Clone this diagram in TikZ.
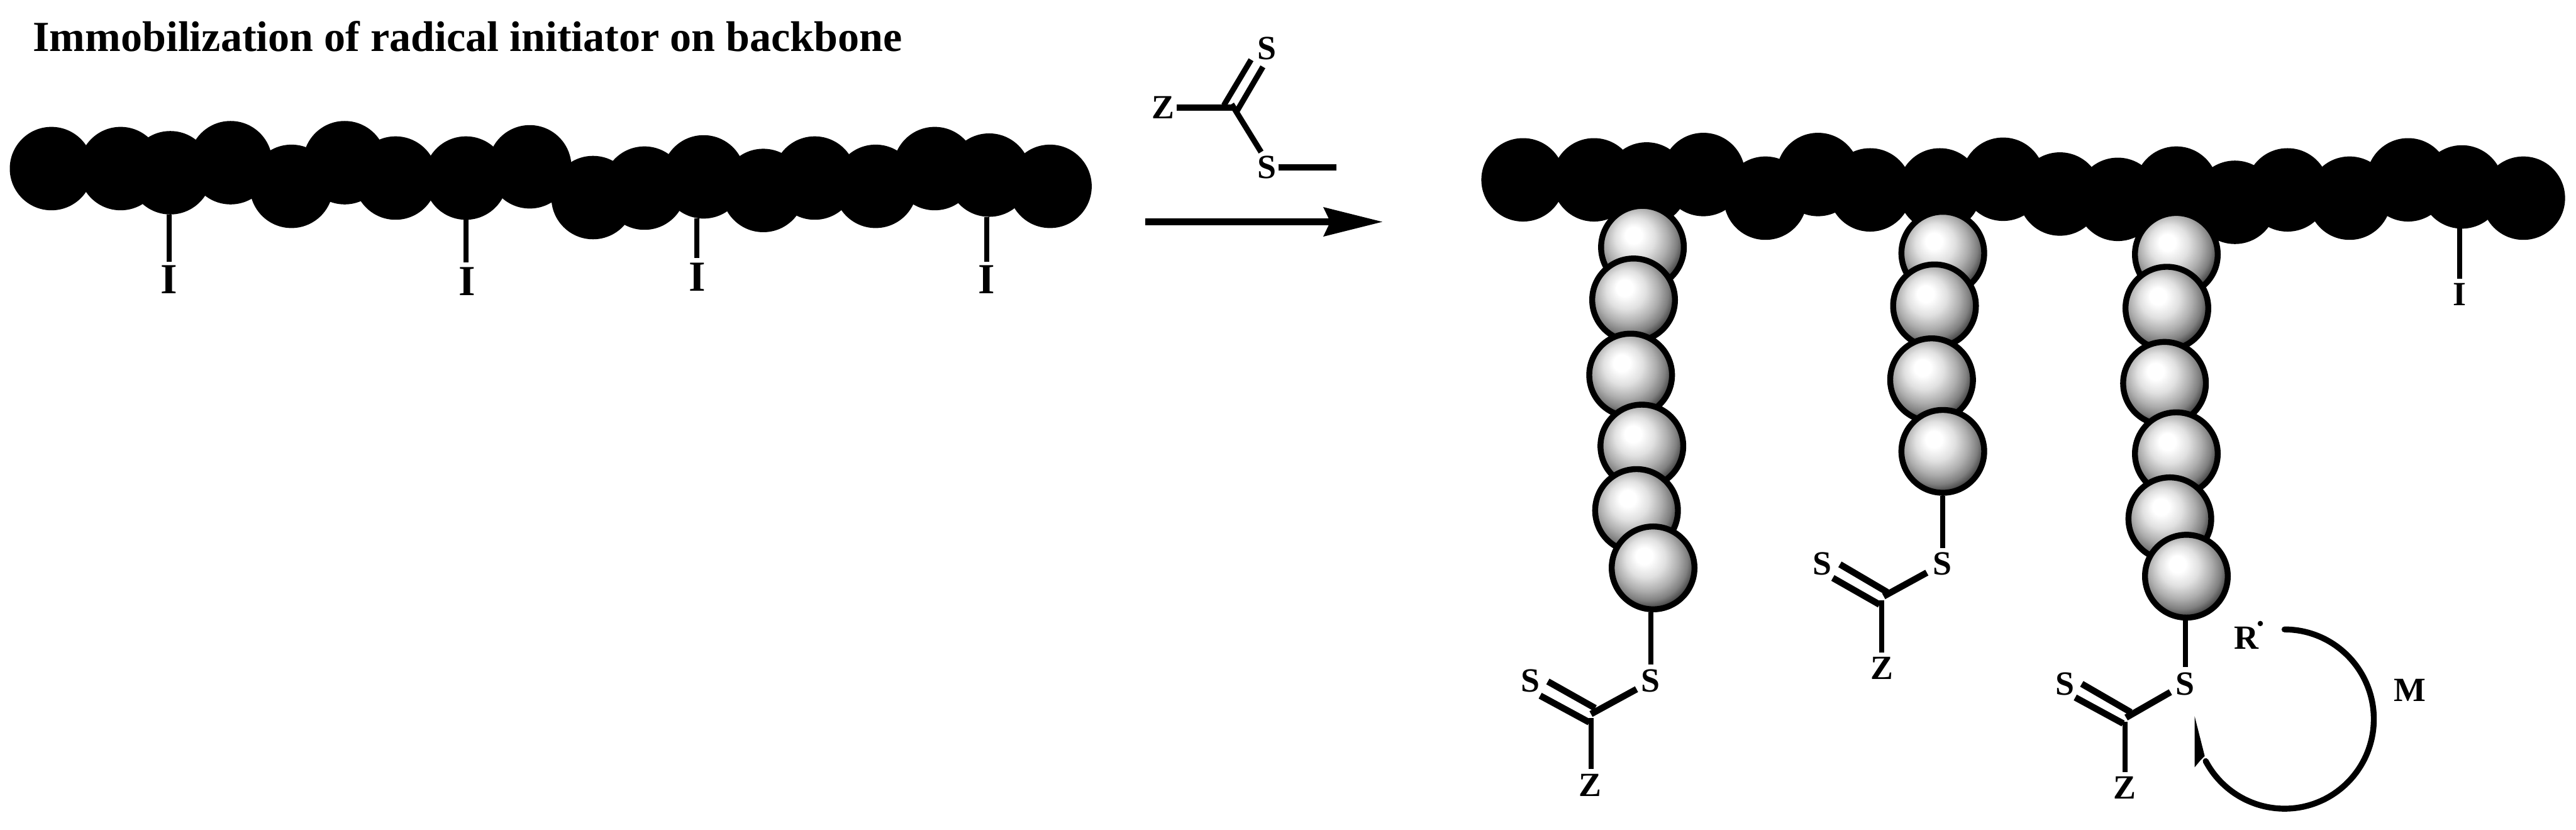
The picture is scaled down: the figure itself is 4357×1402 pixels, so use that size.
\documentclass[tikz,border=0pt]{standalone}
\usepackage{fontspec}
\setmainfont{Liberation Serif}
\pgfdeclareradialshading{beadshade}{\pgfpoint{-6bp}{8bp}}{%
  color(0bp)=(white); color(5bp)=(white); color(12bp)=(black!12); color(19bp)=(black!32);
  color(24bp)=(black!50); color(29bp)=(black!80); color(34bp)=(black!90); color(50bp)=(black)}
\tikzset{
  px/.style={x=0.1mm,y=-0.1mm},
  backbead/.style={circle,fill=black,inner sep=0pt,outer sep=0pt,minimum size=14.1mm},
  greybead/.style={circle,draw=black,line width=1mm,inner sep=0pt,minimum size=14mm,shading=beadshade},
  biglab/.style={inner sep=0pt,font=\fontsize{20.6}{22}\selectfont\bfseries},
  lab/.style={inner sep=0pt,font=\fontsize{16.3}{18}\selectfont\bfseries},
  titlelab/.style={inner sep=0pt,anchor=west,font=\fontsize{20.6}{22}\selectfont\bfseries},
  stalk/.style={line width=0.85mm,line cap=butt},
  bond/.style={line width=0.95mm,line cap=butt},
  thickbond/.style={line width=1.1mm,line cap=butt},
  headfill/.style={fill=black,draw=none},
}
\begin{document}
\begin{tikzpicture}[px]
\useasboundingbox[fill=white] (0,0) rectangle (4357,1402);
% title
\node[titlelab] (title) at (55,62) {Immobilization of radical initiator on backbone};
% left backbone
\foreach \n/\x/\y in {1/87/285,2/204/285,3/288/292,4/390/275,5/493/315,6/583/275,7/669/301,8/788/301,9/896/282,10/1003/334,11/1090/318,12/1190/299,13/1291/322,14/1378/301,15/1481/315,16/1581/285,17/1673/296,18/1776/315}
  \node[backbead] (L\n) at (\x,\y) {};
% left initiators
\node[biglab] (I1) at (286,473) {I};
\node[biglab] (I2) at (790,476) {I};
\node[biglab] (I3) at (1179,468) {I};
\node[biglab] (I4) at (1669,473) {I};
\coordinate (i1e) at (286,443);
\coordinate (i2e) at (788,444);
\coordinate (i3e) at (1179,436);
\coordinate (i4e) at (1669,442);
\draw[stalk] (L3.south -| i1e) -- (i1e);
\draw[stalk] (L8.south -| i2e) -- (i2e);
\draw[stalk] (L12.south -| i3e) -- (i3e);
\draw[stalk] (L17.south -| i4e) -- (i4e);
% reagent
\node[lab] (rS1) at (2143,82) {S};
\node[lab] (rZ) at (1967,182) {Z};
\node[lab] (rS2) at (2143,283) {S};
\coordinate (rC) at (2085,182);
\coordinate (rZe) at (1990,182);
\coordinate (rSe) at (2133,257);
\coordinate (rCb) at (2083,176);
\coordinate (rMs) at (2162,283);
\coordinate (rMe) at (2260,283);
\coordinate (rD1a) at (2070,178);
\coordinate (rD1b) at (2116,101);
\coordinate (rD2a) at (2092,188);
\coordinate (rD2b) at (2136,113);
\draw[thickbond] (rZe) -- (rC);
\draw[bond] (rCb) -- (rSe);
\draw[bond] (rD1a) -- (rD1b);
\draw[bond] (rD2a) -- (rD2b);
\draw[thickbond] (rMs) -- (rMe);
% reaction arrow
\coordinate (arS) at (1937,375);
\coordinate (arN) at (2250,375);
\coordinate (arT) at (2338,375);
\draw[thickbond] (arS) -- (arN);
\fill[headfill] (arT) -- (2238,350) -- (arN) -- (2238,400) -- cycle;
% right backbone
\foreach \n/\x/\y in {1/2576/304,2/2696/304,3/2785/311,4/2881/295,5/2986/335,6/3075/295,7/3163/321,8/3281/321,9/3388/303,10/3484/328,11/3582/337,12/3681/318,13/3780/342,14/3869/321,15/3974/335,16/4073/304,17/4164/316,18/4268/335}
  \node[backbead] (R\n) at (\x,\y) {};
\node[lab] (I5) at (4160,498) {I};
\coordinate (i5e) at (4160,471);
\draw[stalk] (R17.south -| i5e) -- (i5e);
% grey chains
\foreach \n/\x/\y in {1/2778/418,2/2763/507,3/2758/634,4/2777/754,5/2768/863,6/2796/960}
  \node[greybead] (A\n) at (\x,\y) {};
\foreach \n/\x/\y in {1/3286/428,2/3272/517,3/3267/642,4/3286/763}
  \node[greybead] (B\n) at (\x,\y) {};
\foreach \n/\x/\y in {1/3681/430,2/3665/521,3/3661/648,4/3681/767,5/3670/877,6/3698/974}
  \node[greybead] (C\n) at (\x,\y) {};
% chain A end group
\node[lab] (aS) at (2792,1151) {S};
\node[lab] (aSd) at (2589,1151) {S};
\node[lab] (aZ) at (2690,1327) {Z};
\coordinate (aT) at (2792,1123);
\coordinate (aC) at (2691,1214);
\coordinate (aCb) at (2691,1207);
\coordinate (aSb) at (2768,1165);
\coordinate (aZe) at (2691,1300);
\coordinate (aD1a) at (2618,1152);
\coordinate (aD1b) at (2698,1197);
\coordinate (aD2a) at (2605,1176);
\coordinate (aD2b) at (2688,1221);
\draw[stalk] (A6.south -| aT) -- (aT);
\draw[thickbond] (aCb) -- (aSb);
\draw[thickbond] (aD1a) -- (aD1b);
\draw[thickbond] (aD2a) -- (aD2b);
\draw[stalk] (aC) -- (aZe);
% chain B end group
\node[lab] (bS) at (3285,953) {S};
\node[lab] (bSd) at (3082,953) {S};
\node[lab] (bZ) at (3183,1129) {Z};
\coordinate (bT) at (3286,927);
\coordinate (bC) at (3183,1015);
\coordinate (bCb) at (3186,1008);
\coordinate (bSb) at (3259,968);
\coordinate (bZe) at (3183,1103);
\coordinate (bD1a) at (3112,954);
\coordinate (bD1b) at (3192,1001);
\coordinate (bD2a) at (3100,977);
\coordinate (bD2b) at (3179,1022);
\draw[stalk] (B4.south -| bT) -- (bT);
\draw[thickbond] (bCb) -- (bSb);
\draw[thickbond] (bD1a) -- (bD1b);
\draw[thickbond] (bD2a) -- (bD2b);
\draw[stalk] (bC) -- (bZe);
% chain C end group
\node[lab] (cS) at (3696,1156) {S};
\node[lab] (cSd) at (3493,1156) {S};
\node[lab] (cZ) at (3594,1332) {Z};
\node[lab] (cR) at (3800,1078) {R};
\node[lab] (cM) at (4076,1167) {M};
\node[circle,fill=black,inner sep=0pt,minimum size=0.9mm] (cDot) at (3823,1054) {};
\coordinate (cT) at (3696,1128);
\coordinate (cC) at (3594,1220);
\coordinate (cCb) at (3596,1213);
\coordinate (cSb) at (3671,1170);
\coordinate (cZe) at (3594,1305);
\coordinate (cD1a) at (3521,1156);
\coordinate (cD1b) at (3604,1204);
\coordinate (cD2a) at (3510,1179);
\coordinate (cD2b) at (3591,1223);
\draw[stalk] (C6.south -| cT) -- (cT);
\draw[thickbond] (cCb) -- (cSb);
\draw[thickbond] (cD1a) -- (cD1b);
\draw[thickbond] (cD2a) -- (cD2b);
\draw[stalk] (cC) -- (cZe);
% curved arrow
\coordinate (mS) at (3864,1064);
\draw[line width=1mm,line cap=round] (mS) arc[start angle=90,end angle=-152,x radius=151,y radius=-151.5];
\fill[headfill] (3712,1211) -- (3729,1278) -- (3722,1285) -- (3712,1297) -- cycle;
\end{tikzpicture}
\end{document}
